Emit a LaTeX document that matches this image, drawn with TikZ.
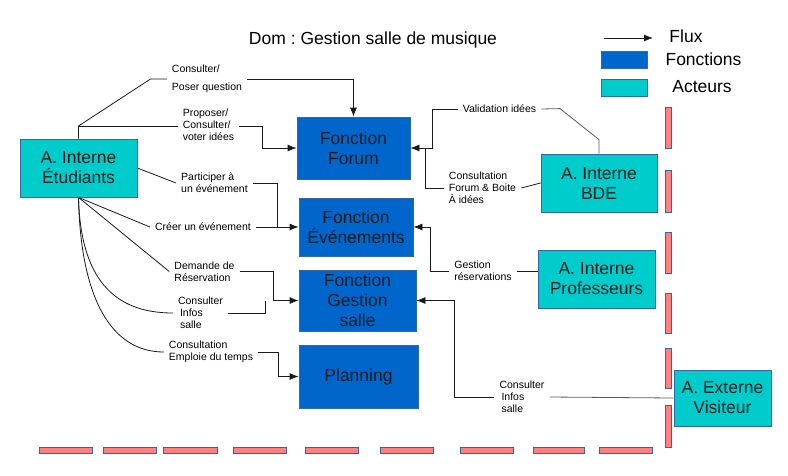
\documentclass[tikz,border=0pt]{standalone}
\usepackage{fontspec}
\setmainfont{Liberation Sans}
\usetikzlibrary{arrows.meta}
\frenchspacing
\definecolor{Bleu}{HTML}{0066CC}
\definecolor{Turquoise}{HTML}{00CCCC}
\definecolor{Bord}{HTML}{3465A4}
\definecolor{Rose}{HTML}{FF8080}
\definecolor{Trait}{HTML}{1A1A1A}
\definecolor{Gris}{HTML}{5A5A5A}
\tikzset{
  box/.style={draw=Bord, line width=0.8pt, align=center, inner sep=2pt,
              font=\fontsize{17.5}{20}\selectfont, text=black!90},
  fonc/.style={box, fill=Bleu},
  acteur/.style={box, fill=Turquoise},
  lien/.style={line width=0.8pt, draw=Trait},
  lienclair/.style={lien, draw=Gris},
  flux/.style={lien, -{Latex[length=9pt,width=7pt]}},
  tag/.style={font=\fontsize{10.5}{12}\selectfont, align=left, inner xsep=5pt, inner ysep=1pt},
  leg/.style={font=\fontsize{17.5}{20}\selectfont, inner sep=0pt},
  tiret/.style={draw=Bord, fill=Rose, line width=0.6pt},
}

\begin{document}
\begin{tikzpicture}[x=1pt, y=-1pt]
  \fill[white] (0,0) rectangle (788,475);
  \useasboundingbox (0,0) rectangle (788,475);

  \foreach \a/\b in {107/148,170/212,232/273,293/333,348/388,405/447}
    \draw[tiret] (665,\a) rectangle (671,\b);
  \foreach \a/\b in {39/92,103/156,163/217,233/286,305/358,380/433,460/513,533/584,599/652}
    \draw[tiret] (\a,447) rectangle (\b,453);

  \node[leg] (titre) at (373,40) {Dom : Gestion salle de musique};

  \coordinate (fluxa) at (604,38);
  \coordinate (fluxb) at (653,38);
  \draw[flux] (fluxa) -- (fluxb);
  \node[leg] (legflux) at (686,36) {Flux};
  \node[fonc, minimum width=46, minimum height=17] (legfonc) at (624,59.5) {};
  \node[leg] (legfonctxt) at (703.5,59) {Fonctions};
  \node[acteur, minimum width=46, minimum height=17] (legact) at (624,87.5) {};
  \node[leg] (legacttxt) at (702,87) {Acteurs};

  \node[acteur, minimum width=117, minimum height=58] (etud) at (78.5,168) {A. Interne\\Étudiants};
  \node[acteur, minimum width=116, minimum height=58] (bde) at (599,183) {A. Interne\\BDE};
  \node[acteur, minimum width=117, minimum height=58] (prof) at (596.5,279) {A. Interne\\Professeurs};
  \node[acteur, minimum width=97, minimum height=56] (vis) at (722.5,398) {A. Externe\\Visiteur};

  \node[fonc, minimum width=113, minimum height=62] (forum) at (353.5,148) {Fonction\\Forum};
  \node[fonc, minimum width=114, minimum height=58] (even) at (356,227) {Fonction\\Événements};
  \node[fonc, minimum width=117, minimum height=61] (gest) at (357.5,300.5) {Fonction\\Gestion\\salle};
  \node[fonc, minimum width=119, minimum height=63] (plan) at (358.5,376.5) {Planning};

  \node[tag] (t1) at (207,79) {Consulter/\\[6pt]Poser question};
  \node[tag] (t2) at (208.5,125) {Proposer/\\Consulter/\\voter idées};
  \node[tag] (t3) at (214.5,183) {Participer à\\un événement};
  \node[tag] (t4) at (203,227) {Créer un événement};
  \node[tag] (t5) at (204.5,271.5) {Demande de\\Réservation};
  \node[tag] (t6) at (200.5,313) {Consulter\\\hspace*{2pt}Infos\\\hspace*{2pt}salle};
  \node[tag] (t7) at (211,352) {Consultation\\Emploie du temps};
  \node[tag] (t8) at (499.5,109) {Validation idées};
  \node[tag] (t9) at (482.5,188) {Consultation\\Forum \& Boite\\À idées};
  \node[tag] (t10) at (483,271) {Gestion\\réservations};
  \node[tag] (t11) at (522,397) {Consulter\\\hspace*{2pt}Infos\\\hspace*{2pt}salle};

  \coordinate (tronc) at (78.5,126);
  \coordinate (jev) at (277,227);
  \coordinate (jgest) at (273,300.5);
  \coordinate (jgest2) at (265,300.5);
  \coordinate (jforum) at (432,148);
  \coordinate (jforum2) at (425,148);
  \coordinate (jeven) at (430,227);
  \coordinate (jsalle) at (454,300.5);

  \draw[lien] (etud.north) -- (tronc) -- ++(72,-47) -- (t1.west);
  \draw[lien] (tronc) -- (t2.west |- tronc);
  \draw[lien] (etud.east) -- (t3.west);
  \draw[lien] (etud.south) -- (t4.west);
  \draw[lien] (etud.south) -- (t5.west);
  \draw[lien] (etud.south) .. controls +(2,80) and +(-60,0) .. (t6.west);
  \draw[lien] (etud.south) .. controls +(2,102) and +(-52,0) .. (t7.west);

  \draw[flux] (t1.east) -| (forum.north);
  \draw[flux] (t2.east |- tronc) -- ++(23,0) |- (forum.west);
  \draw[lien] (t3.east) -| (jev);
  \draw[flux] (t4.east) -- (even.west);
  \draw[flux] (t5.east) -| (jgest) -- (gest.west);
  \draw[lien] (t6.east) -| (jgest2);
  \draw[flux] (t7.east) -- ++(20,0) |- (plan.west);

  \draw[lienclair] (bde.north) -- ++(0,-14) -- ++(-39,-31) -- (t8.east);
  \draw[flux] (t8.west) -| (jforum) -- (forum.east);
  \draw[lien] (bde.west) -- (t9.east);
  \draw[lien] (t9.west) -| (jforum2);
  \draw[lien] (prof.west |- t10.east) -- (t10.east);
  \draw[flux] (t10.west) -| (jeven) -- (even.east);
  \draw[lienclair] (vis.west) -- (t11.east);
  \draw[flux] (t11.west) -| (jsalle) -- (gest.east);
\end{tikzpicture}
\end{document}
